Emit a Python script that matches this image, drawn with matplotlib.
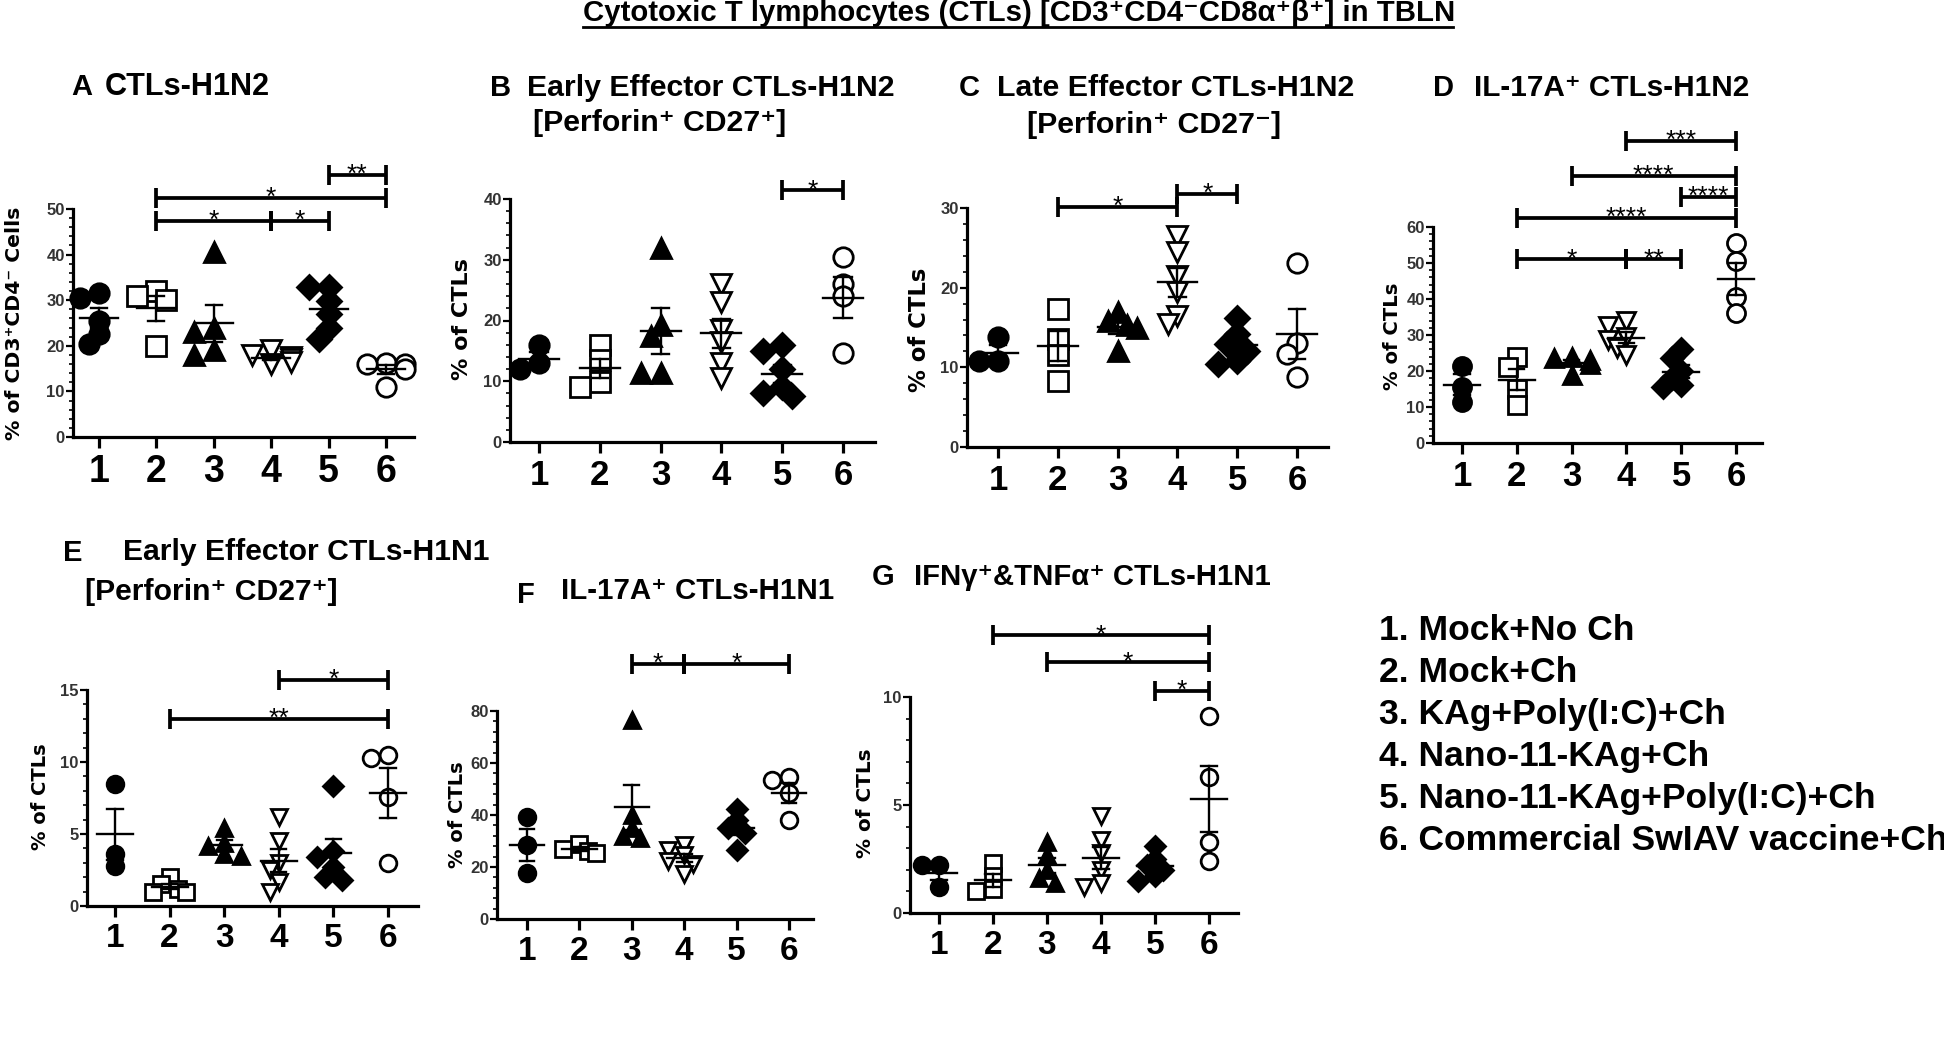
import numpy as np
import matplotlib
matplotlib.use("Agg")
import matplotlib.pyplot as plt
from matplotlib.ticker import MultipleLocator
from matplotlib.lines import Line2D

W, H = 1944, 1047

group_labels = ["1", "2", "3", "4", "5", "6"]
legend_lines = ["1. Mock+No Ch", "2. Mock+Ch", "3. KAg+Poly(I:C)+Ch",
                "4. Nano-11-KAg+Ch", "5. Nano-11-KAg+Poly(I:C)+Ch",
                "6. Commercial SwIAV vaccine+Ch"]

# values, one list per group 1..6
a_vals = [[31.5, 30.5, 25.5, 22.5, 20.5], [32, 31, 30, 20], [40.5, 24, 23, 19, 18],
          [19, 18, 17.5, 17, 16.5, 16], [33, 33, 29.8, 27, 24, 21.5], [16.3, 16, 16, 15, 11]]
a_sig = [(5, 6, 57.5, "**"), (2, 6, 52.4, "*"), (2, 4, 47.3, "*"), (4, 5, 47.3, "*")]

b_vals = [[16, 13, 12], [16, 13.5, 9.9, 9], [32, 19.3, 17.5, 11.3, 11.3],
          [26, 23, 18.5, 16.5, 13, 10.5], [16, 15, 12, 9, 8, 7.5], [30.5, 26, 24, 14.6]]
b_sig = [(5, 6, 41.4, "*")]

c_vals = [[13.8, 10.8, 10.8], [17.3, 13.5, 11.5, 8.3], [17, 15.8, 15.3, 15, 12],
          [26.5, 24.5, 21.5, 19.5, 16.5, 15.5], [16.2, 14.2, 12.9, 12.1, 10.8, 10.4],
          [23.1, 13.1, 11.7, 8.75]]
c_sig = [(2, 4, 30.1, "*"), (4, 5, 31.8, "*")]

d_vals = [[21.5, 15.5, 11.5], [24, 21, 15, 10.5], [24, 23.5, 23, 22, 19],
          [34, 32.5, 29.5, 28.5, 26.5, 24.5], [26, 23.5, 20, 18, 16, 15.5], [55.5, 50.5, 40.5, 36]]
d_sig = [(4, 6, 84, "***"), (3, 6, 74.3, "****"), (5, 6, 68.3, "****"),
         (2, 6, 62.6, "****"), (2, 4, 51, "*"), (4, 5, 51, "**")]

e_vals = [[8.5, 3.6, 2.8], [2.0, 1.5, 1.2, 1.0, 1.0], [5.4, 4.4, 4.2, 3.6, 3.5],
          [6.2, 4.5, 3.0, 2.5, 1.7, 1.0], [8.3, 3.8, 3.4, 2.7, 2.0, 1.8], [10.5, 10.3, 7.6, 3.0]]
e_sig = [(4, 6, 15.7, "*"), (2, 6, 13.0, "**")]

f_vals = [[39.4, 28.5, 17.6], [29, 27, 26, 25.3], [76.5, 40, 35, 32, 31],
          [28.5, 26.5, 24.5, 22.5, 21, 17.5], [42.5, 38, 35, 33, 26.5], [54.7, 53.4, 48.3, 38]]
f_sig = [(3, 4, 98.1, "*"), (4, 6, 98.1, "*")]

g_vals = [[2.2, 2.2, 1.2], [2.3, 1.7, 1.1, 1.0], [3.3, 2.7, 2.0, 1.6, 1.4],
          [4.5, 3.4, 2.8, 2.0, 1.4, 1.2], [3.1, 2.5, 2.2, 2.0, 1.7, 1.5], [9.1, 6.3, 3.3, 2.4]]
g_sig = [(2, 6, 12.85, "*"), (3, 6, 11.6, "*"), (5, 6, 10.3, "*")]

markers = ["o", "s", "^", "v", "D", "o"]
filled = [True, False, True, False, True, False]

ARIAL = ["Liberation Sans", "DejaVu Sans"]
WIDE = ["DejaVu Sans"]

# layout in pixels: left, right, top, bottom of axes, first/last tick x
panels = [
    dict(vals=a_vals, sig=a_sig, ymax=50, major=10, minor=2, box=(73, 414, 209, 437), t=(99, 386),
         ms=14, xfs=27, ylabel="% of CD3⁺CD4⁻ Cells", yl=(15, 323), ylw=233),
    dict(vals=b_vals, sig=b_sig, ymax=40, major=10, minor=2, box=(510, 875, 199, 442), t=(539, 843),
         ms=14, xfs=25, ylabel="% of CTLs", yl=(462, 319), ylw=122),
    dict(vals=c_vals, sig=c_sig, ymax=30, major=10, minor=2, box=(967, 1328, 208, 447), t=(998, 1297),
         ms=14, xfs=25, ylabel="% of CTLs", yl=(919, 330), ylw=125),
    dict(vals=d_vals, sig=d_sig, ymax=60, major=10, minor=2, box=(1433, 1762, 227, 443), t=(1462, 1736),
         ms=13, xfs=25, ylabel="% of CTLs", yl=(1392, 336), ylw=108),
    dict(vals=e_vals, sig=e_sig, ymax=15, major=5, minor=1, box=(87, 418, 690, 906), t=(115, 388),
         ms=12, xfs=24, ylabel="% of CTLs", yl=(40, 797), ylw=107),
    dict(vals=f_vals, sig=f_sig, ymax=80, major=20, minor=4, box=(497, 813, 711, 919), t=(527, 789),
         ms=12, xfs=24, ylabel="% of CTLs", yl=(457, 815), ylw=107),
    dict(vals=g_vals, sig=g_sig, ymax=10, major=5, minor=1, box=(910, 1238, 697, 913), t=(939, 1209),
         ms=12, xfs=24, ylabel="% of CTLs", yl=(865, 803), ylw=110),
]

# panel headings: (letter, x, y, first line width, [(text, x, y)])
headings = [
    ("A", 71, 87, 165, [("CTLs-H1N2", 105, 87)]),
    ("B", 490, 88, 368, [("Early Effector CTLs-H1N2", 527, 88), ("[Perforin⁺ CD27⁺]", 533, 123)]),
    ("C", 959, 88, 358, [("Late Effector CTLs-H1N2", 997, 88), ("[Perforin⁺ CD27⁻]", 1027, 125)]),
    ("D", 1433, 88, 275, [("IL-17A⁺ CTLs-H1N2", 1474, 88)]),
    ("E", 63, 553, 366, [("Early Effector CTLs-H1N1", 123, 552), ("[Perforin⁺ CD27⁺]", 85, 592)]),
    ("F", 517, 595, 273, [("IL-17A⁺ CTLs-H1N1", 561, 591)]),
    ("G", 872, 577, 356, [("IFNγ⁺&TNFα⁺ CTLs-H1N1", 914, 577)]),
]


def fx(x):
    return x / W


def fy(y):
    return 1 - y / H


def fit(txt, width_px, horizontal=True):
    bb = txt.get_window_extent(renderer)
    size = bb.width if horizontal else bb.height
    txt.set_fontsize(txt.get_fontsize() * width_px / size)


def swarm(vals, py, sx, d):
    vals = np.asarray(vals, float)
    offs = np.zeros(len(vals))
    placed = []
    for i in np.argsort(-vals, kind="stable"):
        y = vals[i] * py
        for k in [0, -1, 1, -2, 2]:
            x = k * 0.5 * d
            if all((x - a) ** 2 + (y - b) ** 2 >= (0.62 * d) ** 2 for a, b in placed):
                break
        placed.append((x, y))
        offs[i] = x / sx
    return offs


fig = plt.figure(figsize=(W / 100, H / 100), dpi=100)
renderer = fig.canvas.get_renderer()

for p in panels:
    l, r, t, b = p["box"]
    t1, t6 = p["t"]
    s = (t6 - t1) / 5
    ax = fig.add_axes([fx(l), fy(b), (r - l) / W, (b - t) / H])
    ax.set_xlim(1 - (t1 - l) / s, 6 + (r - t6) / s)
    ax.set_ylim(0, p["ymax"])
    py = (b - t) / p["ymax"]
    d = p["ms"] * 1.39

    for sp in ["top", "right"]:
        ax.spines[sp].set_visible(False)
    for sp in ["left", "bottom"]:
        ax.spines[sp].set_linewidth(2.3)
    ax.spines["left"].set_bounds(0, p["ymax"])

    ax.set_xticks(range(1, 7))
    ax.set_xticklabels(group_labels, fontfamily=ARIAL, fontweight="bold", fontsize=p["xfs"])
    ax.tick_params(axis="x", length=8, width=2.3, pad=4)
    ax.yaxis.set_major_locator(MultipleLocator(p["major"]))
    ax.yaxis.set_minor_locator(MultipleLocator(p["minor"]))
    ax.tick_params(axis="y", which="major", length=5, width=1.6, pad=1,
                   labelsize=12, labelcolor="#333333")
    ax.tick_params(axis="y", which="minor", length=3, width=1.2)
    for lab in ax.get_yticklabels():
        lab.set_fontweight("bold")
        lab.set_fontfamily(ARIAL)

    for g, vals in enumerate(p["vals"]):
        x0 = g + 1
        offs = swarm(vals, py, s, d)
        ms = p["ms"] * (0.85 if markers[g] == "D" else 1.0)
        ax.plot(x0 + offs, vals, linestyle="none", marker=markers[g], markersize=ms,
                markerfacecolor="black" if filled[g] else "white",
                markeredgecolor="black", markeredgewidth=2.0, zorder=2, clip_on=False)
        m = np.mean(vals)
        se = np.std(vals, ddof=1) / np.sqrt(len(vals))
        ax.plot([x0 - 0.33, x0 + 0.33], [m, m], color="black", lw=1.7, zorder=3)
        ax.plot([x0, x0], [m - se, m + se], color="black", lw=1.7, zorder=3)
        for yy in (m - se, m + se):
            ax.plot([x0 - 0.14, x0 + 0.14], [yy, yy], color="black", lw=1.7, zorder=3)

    cap = 10 / py
    for g1, g2, yb, stars in p["sig"]:
        ax.plot([g1, g2], [yb, yb], color="black", lw=2.7, clip_on=False,
                solid_capstyle="butt", zorder=4)
        for xx in (g1, g2):
            ax.plot([xx, xx], [yb - cap, yb + cap], color="black", lw=2.7,
                    clip_on=False, solid_capstyle="butt", zorder=4)
        ax.annotate(stars, xy=((g1 + g2) / 2, yb), xytext=(0, -7), textcoords="offset pixels",
                    ha="center", va="baseline", fontsize=19, fontfamily=ARIAL,
                    annotation_clip=False)

    yl = fig.text(fx(p["yl"][0]), fy(p["yl"][1]), p["ylabel"], rotation=90, ha="center",
                  va="center", fontsize=16, fontweight="bold", fontfamily=WIDE)
    fit(yl, p["ylw"], horizontal=False)

for letter, lx, ly, lw, lines in headings:
    fig.text(fx(lx), fy(ly), letter, ha="left", va="center", fontsize=21,
             fontweight="bold", fontfamily=ARIAL)
    texts = [fig.text(fx(tx), fy(ty), txt, ha="left", va="center", fontsize=20,
                      fontweight="bold", fontfamily=ARIAL) for txt, tx, ty in lines]
    fit(texts[0], lw)
    for tt in texts[1:]:
        tt.set_fontsize(texts[0].get_fontsize())

# figure title, underlined
title = fig.text(fx(583), fy(13), "Cytotoxic T lymphocytes (CTLs) [CD3⁺CD4⁻CD8α⁺β⁺] in TBLN",
                 ha="left", va="center", fontsize=20, fontweight="bold", fontfamily=ARIAL)
fit(title, 870)
fig.add_artist(Line2D([fx(583), fx(1453)], [fy(27), fy(27)], color="black", lw=2))

leg = []
for i, line in enumerate(legend_lines):
    leg.append(fig.text(fx(1379), fy(630 + i * 42.2), line, ha="left", va="center",
                        fontsize=22, fontweight="bold", fontfamily=ARIAL))
first = leg[0].get_window_extent(renderer).width
for tt in leg:
    tt.set_fontsize(22 * 255 / first)

fig.savefig("out.png", dpi=100)
